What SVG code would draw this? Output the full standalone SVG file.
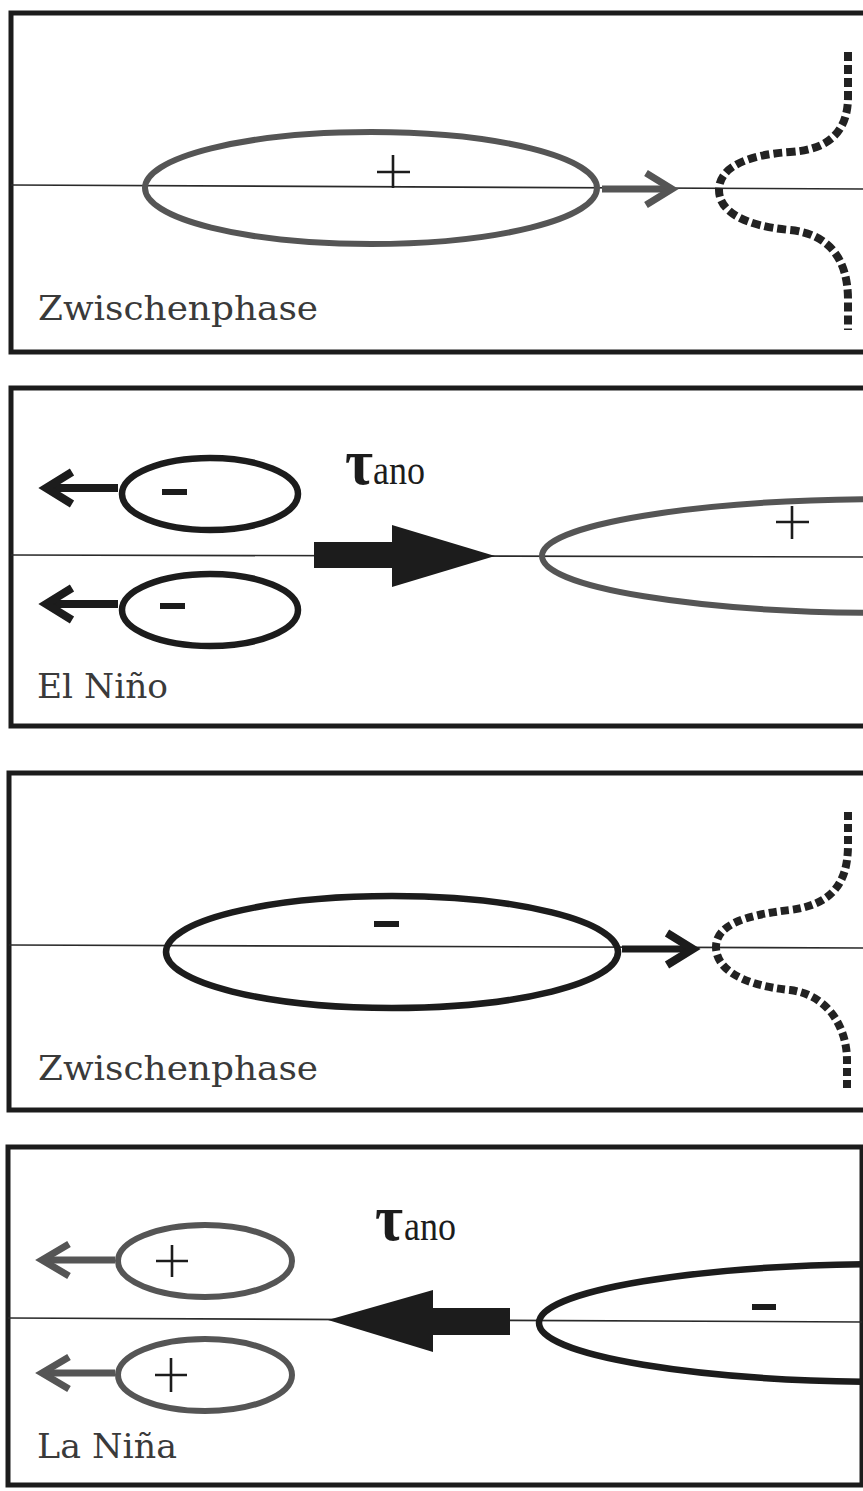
<svg xmlns="http://www.w3.org/2000/svg" width="863" height="1491" viewBox="0 0 863 1491">
<style>
.frame{fill:none;stroke:#1c1c1c;stroke-width:5}
.axis{stroke:#2a2a2a;stroke-width:1.6;fill:none}
.ovk{fill:none;stroke:#1c1c1c;stroke-width:6.5}
.ovg{fill:none;stroke:#555;stroke-width:6}
.sign{stroke:#1c1c1c;stroke-width:2.6;fill:none}
.minus{fill:#1c1c1c}
.arrk{stroke:#1c1c1c;stroke-width:8;fill:none;stroke-linejoin:miter}
.arrg{stroke:#555;stroke-width:7;fill:none;stroke-linejoin:miter}
.dash{fill:none;stroke:#222;stroke-width:8}
.big{fill:#1c1c1c}
.lbl{font-family:"DejaVu Serif","Liberation Serif",serif;font-size:33px;fill:#3a3a3a}
.tau{font-family:"Liberation Serif","DejaVu Serif",serif;fill:#1c1c1c}
</style>

<!-- Panel 1 -->
<g id="panel1">
  <rect class="frame" x="11" y="13" width="870" height="339"/>
  <line class="axis" x1="11" y1="185" x2="863" y2="189"/>
  <text class="lbl" x="38" y="320" textLength="280" lengthAdjust="spacingAndGlyphs">Zwischenphase</text>
</g>
<g id="p1-anomaly">
  <ellipse class="ovg" cx="371" cy="188" rx="226" ry="56"/>
  <path class="sign" d="M377,172 H410 M393,155 V188"/>
</g>
<g id="p1-front">
  <path class="dash" style="stroke-dasharray:9 4" d="M848,52 L848,97 C848,130 830,150 790,152 C745,155 719,168 719,190 C719,212 745,226 790,230 C830,234 848,260 848,300 L848,330"/>
</g>

<!-- Panel 2 -->
<g id="panel2">
  <rect class="frame" x="11" y="388" width="870" height="338"/>
  <line class="axis" x1="11" y1="555" x2="863" y2="557"/>
  <text class="lbl" x="37" y="698" textLength="131" lengthAdjust="spacingAndGlyphs">El Niño</text>
  <text class="tau" x="345" y="484" font-size="66" font-weight="bold" textLength="28" lengthAdjust="spacingAndGlyphs">τ</text>
  <text class="tau" x="373" y="484" font-size="43" textLength="52" lengthAdjust="spacingAndGlyphs">ano</text>
</g>
<g id="p2-neg-upper">
  <ellipse class="ovk" cx="210" cy="494" rx="88" ry="36"/>
  <rect class="minus" x="162" y="489" width="25" height="6"/>
</g>
<g id="p2-neg-lower">
  <ellipse class="ovk" cx="210" cy="610" rx="88" ry="36"/>
  <rect class="minus" x="160" y="603" width="25" height="6"/>
</g>
<g id="p2-pos">
  <ellipse class="ovg" cx="890" cy="556" rx="348" ry="57"/>
  <path class="sign" d="M776,522 H809 M792,506 V539"/>
</g>

<!-- Panel 3 -->
<g id="panel3">
  <rect class="frame" x="9" y="773" width="872" height="337"/>
  <line class="axis" x1="9" y1="945" x2="863" y2="948"/>
  <text class="lbl" x="38" y="1080" textLength="280" lengthAdjust="spacingAndGlyphs">Zwischenphase</text>
</g>
<g id="p3-anomaly">
  <ellipse class="ovk" cx="392" cy="952" rx="226" ry="56"/>
  <rect class="minus" x="374" y="921" width="25" height="6"/>
</g>
<g id="p3-front">
  <path class="dash" style="stroke-dasharray:8 4" d="M848,812 L848,845 C848,885 830,905 790,910 C745,915 716,925 716,947 C716,968 740,985 790,990 C830,995 847,1030 847,1060 L847,1090"/>
</g>

<!-- Panel 4 -->
<g id="panel4">
  <rect class="frame" x="8" y="1147" width="854" height="338"/>
  <line class="axis" x1="8" y1="1318" x2="862" y2="1322"/>
  <text class="lbl" x="37" y="1458" textLength="140" lengthAdjust="spacingAndGlyphs">La Niña</text>
  <text class="tau" x="375" y="1240" font-size="66" font-weight="bold" textLength="28" lengthAdjust="spacingAndGlyphs">τ</text>
  <text class="tau" x="404" y="1240" font-size="43" textLength="52" lengthAdjust="spacingAndGlyphs">ano</text>
</g>
<g id="p4-pos-upper">
  <ellipse class="ovg" cx="205" cy="1261" rx="87" ry="36"/>
  <path class="sign" d="M156,1261 H188 M172,1245 V1277"/>
</g>
<g id="p4-pos-lower">
  <ellipse class="ovg" cx="205" cy="1375" rx="87" ry="36"/>
  <path class="sign" d="M155,1375 H187 M171,1358 V1392"/>
</g>
<g id="p4-neg">
  <ellipse class="ovk" cx="895" cy="1323" rx="356" ry="59"/>
  <rect class="minus" x="752" y="1304" width="24" height="6"/>
</g>

<!-- Connectors -->
<g id="connectors">
  <!-- panel 1 -->
  <path class="arrg" d="M602,189 H668"/>
  <path class="arrg" d="M646,173 L672,189 L646,205"/>
  <!-- panel 2 -->
  <path class="arrk" d="M118,488 H50"/>
  <path class="arrk" d="M72,472 L46,488 L72,504"/>
  <path class="arrk" d="M118,604 H50"/>
  <path class="arrk" d="M72,588 L46,604 L72,620"/>
  <rect class="big" x="314" y="542" width="80" height="26"/>
  <polygon class="big" points="392,525 495,556 392,587"/>
  <!-- panel 3 -->
  <path class="arrk" style="stroke-width:7" d="M622,949 H690"/>
  <path class="arrk" d="M667,933 L693,949 L667,965"/>
  <!-- panel 4 -->
  <path class="arrg" d="M115,1260 H46"/>
  <path class="arrg" d="M69,1244 L42,1260 L69,1276"/>
  <path class="arrg" d="M115,1373 H46"/>
  <path class="arrg" d="M69,1357 L42,1373 L69,1389"/>
  <rect class="big" x="430" y="1308" width="80" height="27"/>
  <polygon class="big" points="433,1290 328,1320 433,1352"/>
</g>
</svg>
